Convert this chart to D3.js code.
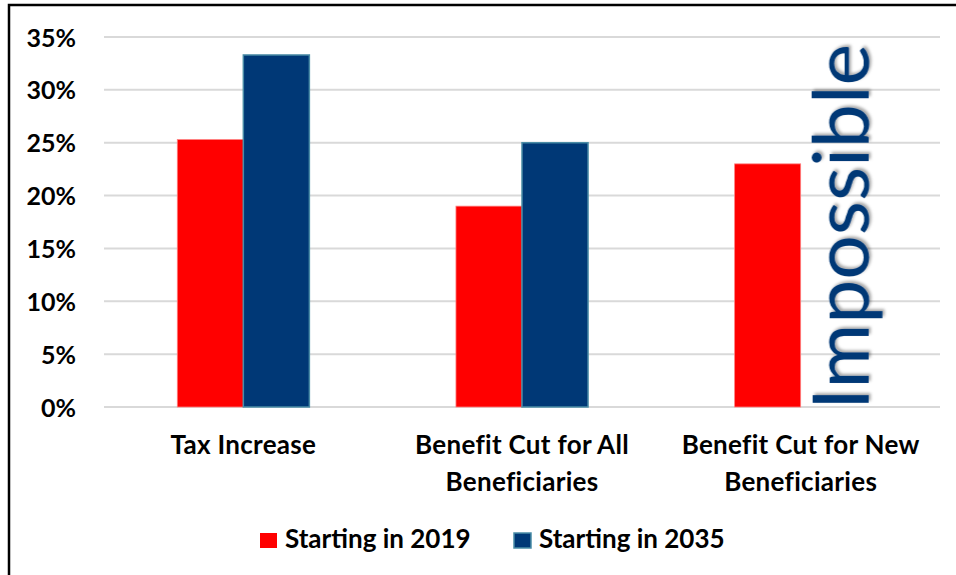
<!DOCTYPE html>
<html><head><meta charset="utf-8">
<script src="https://cdn.jsdelivr.net/npm/d3@7"></script>
<style>body{margin:0;background:#fff}svg{display:block}</style>
</head><body>
<script>
const categories = [["Tax Increase"], ["Benefit Cut for All", "Beneficiaries"], ["Benefit Cut for New", "Beneficiaries"]];
const seriesNames = ["Starting in 2019", "Starting in 2035"];
const values2019 = [25.3, 19.0, 23.0];
const values2035 = [33.3, 25.0, null];
const yTicks = [0, 5, 10, 15, 20, 25, 30, 35];
const impossibleLabel = "Impossible";

(function () {
const W = 956, H = 575;
const font = "Lato, 'Open Sans', sans-serif";
const colors = ["#ff0000", "#003876"];
const strokes = ["#ff8080", "#4a8ca6"];

const svg = d3.select("body").append("svg").attr("width", W).attr("height", H);
const defs = svg.append("defs");
const f = defs.append("filter").attr("id", "shadow").attr("x", "-20%").attr("y", "-20%").attr("width", "140%").attr("height", "140%");
f.append("feDropShadow").attr("dx", 2).attr("dy", 2).attr("stdDeviation", 1.5).attr("flood-color", "#000").attr("flood-opacity", 0.35);

// frame
svg.append("rect").attr("x", 9).attr("y", 5).attr("width", W + 20).attr("height", H + 20)
  .attr("fill", "none").attr("stroke", "#000").attr("stroke-width", 2.5);

const pLeft = 104, pRight = 940, pTop = 37, pBottom = 407;
const y = d3.scaleLinear().domain([0, 35]).range([pBottom, pTop]);
const x0 = d3.scaleBand().domain(d3.range(categories.length)).range([pLeft, pRight]).paddingInner(0.526).paddingOuter(0.263);
const x1 = d3.scaleBand().domain([0, 1]).range([0, x0.bandwidth()]);

// gridlines
svg.append("g").selectAll("line").data(yTicks).join("line")
  .attr("x1", pLeft).attr("x2", pRight)
  .attr("y1", d => y(d)).attr("y2", d => y(d))
  .attr("stroke", "#d9d9d9").attr("stroke-width", 2);

// y axis labels
const yAxis = svg.append("g").attr("transform", `translate(76,0)`)
  .call(d3.axisLeft(y).tickValues(yTicks).tickFormat(d => d + "%").tickSize(0).tickPadding(0));
yAxis.select(".domain").remove();
yAxis.selectAll("text").attr("font-family", font).attr("font-weight", "bold").attr("font-size", 25).attr("fill", "#000").attr("dy", "0.36em");

// bars
const series = [values2019, values2035];
series.forEach((vals, si) => {
  svg.append("g").selectAll("rect").data(vals.map((v, i) => ({ v, i })).filter(d => d.v != null)).join("rect")
    .attr("x", d => x0(d.i) + x1(si))
    .attr("width", x1.bandwidth())
    .attr("y", d => y(d.v))
    .attr("height", d => y(0) - y(d.v))
    .attr("fill", colors[si])
    .attr("stroke", strokes[si]).attr("stroke-width", si === 1 ? 1.5 : 0.8);
});

// Impossible label
const impIdx = 2;
const ix = x0(impIdx) + x1(1) + 68;
svg.append("text")
  .attr("transform", `translate(${ix},${pBottom + 3}) rotate(-90)`)
  .attr("font-family", font).attr("font-size", 78).attr("fill", "#003876")
  .attr("textLength", 366).attr("lengthAdjust", "spacingAndGlyphs")
  .attr("filter", "url(#shadow)")
  .text(impossibleLabel);

// category labels
const cat = svg.append("g");
categories.forEach((lines, i) => {
  const cx = x0(i) + x0.bandwidth() / 2;
  const t = cat.append("text").attr("x", cx).attr("y", 454)
    .attr("text-anchor", "middle").attr("font-family", font).attr("font-weight", "bold").attr("font-size", 26)
    .attr("letter-spacing", 0.3).attr("fill", "#000");
  lines.forEach((l, k) => t.append("tspan").attr("x", cx).attr("dy", k === 0 ? 0 : 37).text(l));
});

// legend
const legendX = [260, 514];
const lg = svg.append("g");
seriesNames.forEach((n, i) => {
  lg.append("rect").attr("x", legendX[i]).attr("y", 533).attr("width", 17).attr("height", 15)
    .attr("fill", colors[i]).attr("stroke", strokes[i]).attr("stroke-width", i === 1 ? 1.5 : 0);
  lg.append("text").attr("x", legendX[i] + 25).attr("y", 548)
    .attr("font-family", font).attr("font-weight", "bold").attr("font-size", 26).attr("fill", "#000").text(n);
});
})();
</script>
</body></html>
